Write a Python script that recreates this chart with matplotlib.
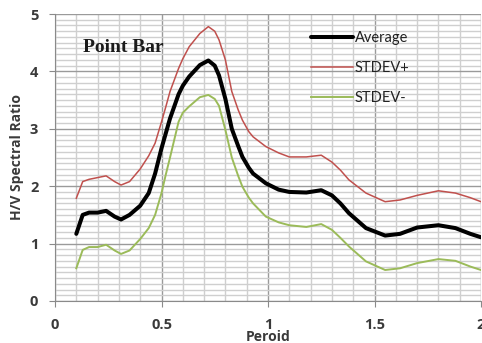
import matplotlib
matplotlib.use("Agg")
import matplotlib.pyplot as plt
from matplotlib.ticker import MultipleLocator, FixedLocator

period = [0.10, 0.13, 0.16, 0.20, 0.24, 0.28, 0.31, 0.35, 0.40, 0.44, 0.47, 0.50,
          0.52, 0.54, 0.58, 0.60, 0.63, 0.68, 0.72, 0.75, 0.77, 0.80, 0.83, 0.86,
          0.88, 0.91, 0.93, 0.99, 1.05, 1.10, 1.18, 1.25, 1.30, 1.34, 1.38, 1.46,
          1.55, 1.62, 1.70, 1.80, 1.88, 1.95, 2.00]
average = [1.17, 1.50, 1.54, 1.54, 1.57, 1.47, 1.42, 1.50, 1.66, 1.88, 2.22, 2.66,
           2.92, 3.18, 3.60, 3.75, 3.91, 4.11, 4.19, 4.10, 3.93, 3.52, 3.00, 2.70,
           2.51, 2.32, 2.22, 2.05, 1.94, 1.90, 1.89, 1.93, 1.84, 1.70, 1.53, 1.27,
           1.14, 1.17, 1.28, 1.32, 1.27, 1.17, 1.11]
stdev_plus = [1.79, 2.08, 2.12, 2.15, 2.18, 2.08, 2.02, 2.08, 2.30, 2.53, 2.75, 3.12,
              3.38, 3.65, 4.05, 4.22, 4.43, 4.66, 4.78, 4.70, 4.55, 4.20, 3.65, 3.33,
              3.15, 2.95, 2.86, 2.69, 2.58, 2.51, 2.51, 2.54, 2.42, 2.28, 2.11, 1.88,
              1.73, 1.76, 1.84, 1.92, 1.88, 1.80, 1.73]
stdev_minus = [0.57, 0.89, 0.94, 0.94, 0.98, 0.88, 0.82, 0.88, 1.08, 1.27, 1.50, 1.88,
               2.20, 2.50, 3.12, 3.28, 3.39, 3.55, 3.59, 3.52, 3.40, 2.98, 2.50, 2.18,
               1.99, 1.80, 1.70, 1.47, 1.37, 1.32, 1.29, 1.34, 1.24, 1.10, 0.95, 0.69,
               0.54, 0.57, 0.66, 0.73, 0.70, 0.60, 0.54]
x_ticks = [0, 0.5, 1, 1.5, 2]
x_tick_labels = ["0", "0.5", "1", "1.5", "2"]
y_ticks = [0, 1, 2, 3, 4, 5]

fig = plt.figure(figsize=(4.82, 3.43), dpi=100)
ax = fig.add_axes([55/482, 1-301/343, 426/482, (301-14)/343])

ax.plot(period, average, color="black", lw=2.9, label="Average", zorder=5,
        solid_joinstyle="round", solid_capstyle="round")
ax.plot(period, stdev_plus, color="#c0504d", lw=1.1, label="STDEV+", zorder=4,
        solid_joinstyle="round")
ax.plot(period, stdev_minus, color="#9bbb59", lw=1.4, label="STDEV-", zorder=4,
        solid_joinstyle="round")

ax.set_xlim(0, 2)
ax.set_ylim(0, 5)
ax.xaxis.set_major_locator(FixedLocator(x_ticks))
ax.set_xticklabels(x_tick_labels)
ax.yaxis.set_major_locator(FixedLocator(y_ticks))
ax.xaxis.set_minor_locator(MultipleLocator(0.1))
ax.yaxis.set_minor_locator(MultipleLocator(0.1))

ax.grid(which="minor", color="#cfcfcf", lw=1.0, zorder=0)
ax.grid(which="major", color="#9a9a9a", lw=1.0, zorder=1)
ax.set_axisbelow(True)

for s in ["top", "right"]:
    ax.spines[s].set_visible(False)
ax.spines["left"].set_color("#8a8a8a")
ax.spines["bottom"].set_color("#8a8a8a")
ax.tick_params(which="minor", length=0)
ax.tick_params(which="major", length=4, color="#8a8a8a", pad=8)

tick_color = "#3a3a3a"
for lab in ax.get_xticklabels() + ax.get_yticklabels():
    lab.set_fontfamily("Open Sans")
    lab.set_fontweight("bold")
    lab.set_fontsize(10.5)
    lab.set_color(tick_color)

ax.set_xlabel("Peroid", fontfamily="Open Sans", fontweight="bold", fontsize=10,
              color=tick_color, labelpad=-1)
ax.set_ylabel("H/V Spectral Ratio", fontfamily="Open Sans", fontweight="bold",
              fontsize=10, color=tick_color, labelpad=4)

ax.text(83/482, 1-47/343, "Point Bar", transform=fig.transFigure,
        fontfamily="Liberation Serif", fontweight="bold", fontsize=14,
        color="#1b1b1b", va="center", ha="left")

leg = ax.legend(loc="upper left", bbox_to_anchor=(311/482, 1-31/343),
                bbox_transform=fig.transFigure, frameon=False,
                prop={"family": "Lato", "size": 10.5},
                handlelength=2.9, handletextpad=0.1, labelspacing=1.1,
                borderpad=0, borderaxespad=0)
for t in leg.get_texts():
    t.set_color("#222222")

fig.savefig("out.png", dpi=100)
